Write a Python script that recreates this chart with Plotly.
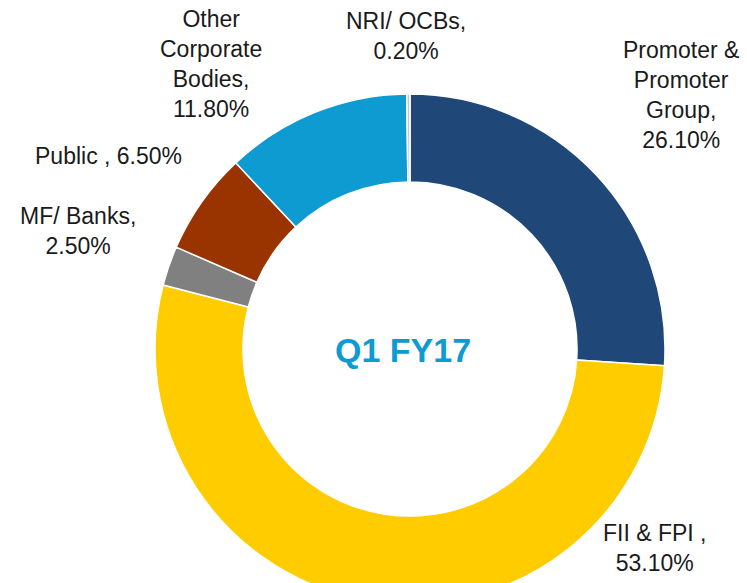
import plotly.graph_objects as go

categories = ["Promoter & Promoter Group", "FII & FPI", "MF/ Banks", "Public", "Other Corporate Bodies", "NRI/ OCBs"]
values = [26.10, 53.10, 2.50, 6.50, 11.80, 0.20]
colors = ["#1F4878", "#FFCC00", "#808080", "#993300", "#0E9BD1", "#C8C8C8"]
label_texts = [
    "Promoter &<br>Promoter<br>Group,<br>26.10%",
    "FII & FPI ,<br>53.10%",
    "MF/ Banks,<br>2.50%",
    "Public , 6.50%",
    "Other<br>Corporate<br>Bodies,<br>11.80%",
    "NRI/ OCBs,<br>0.20%",
]
label_pos = [(681, 95), (655, 548), (78, 231), (108, 156), (211, 64), (406, 36)]
center_text = "Q1 FY17"

W, H = 747, 610  # page window is 583 tall; bottom of ring is cut off as in the reference
cx, cy, R = 410, 349, 255

fig = go.Figure(go.Pie(
    labels=categories, values=values, sort=False, direction="clockwise", rotation=0,
    hole=0.655, textinfo="none", hoverinfo="label+percent",
    marker=dict(colors=colors, line=dict(color="#FFFFFF", width=1.5)),
    domain=dict(x=[(cx - R) / W, (cx + R) / W], y=[(H - cy - R) / H, (H - cy + R) / H]),
    showlegend=False,
))

annotations = []
for txt, (x, y) in zip(label_texts, label_pos):
    annotations.append(dict(
        x=x / W, y=1 - y / H, xref="paper", yref="paper", text=txt, showarrow=False,
        xanchor="center", yanchor="middle", align="center",
        font=dict(family="Liberation Sans, Arial, sans-serif", size=23, color="#1A1A1A"),
    ))
annotations.append(dict(
    x=403 / W, y=1 - 350 / H, xref="paper", yref="paper", text="<b>" + center_text + "</b>",
    showarrow=False, xanchor="center", yanchor="middle",
    font=dict(family="Liberation Sans, Arial, sans-serif", size=34, color="#0E9BD1"),
))

fig.update_layout(
    width=W, height=H, margin=dict(l=0, r=0, t=0, b=0),
    paper_bgcolor="#FFFFFF", plot_bgcolor="#FFFFFF",
    annotations=annotations,
)
fig.write_html("out.html", config={"displayModeBar": False},
               post_script="document.body.style.margin='0';document.body.style.overflow='hidden';document.documentElement.style.overflow='hidden';")
